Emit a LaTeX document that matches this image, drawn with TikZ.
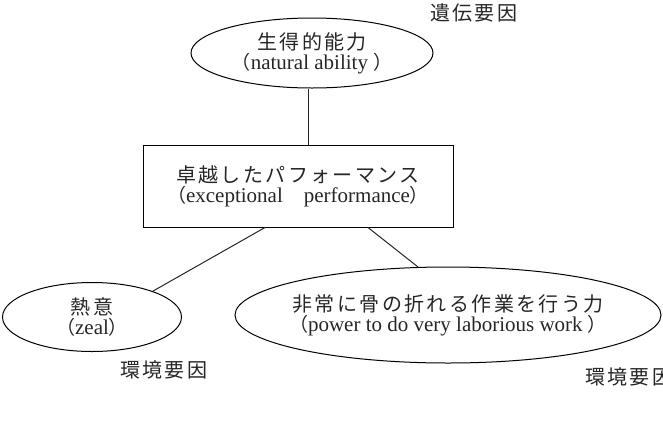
\documentclass[tikz,border=0pt]{standalone}
\usepackage{fontspec}
\setmainfont{Liberation Serif}
\newfontfamily\jpf[LetterSpace=12]{Noto Sans CJK JP}
\newfontfamily\jpp{Noto Sans CJK JP}
\usetikzlibrary{shapes.geometric}
\tikzset{
  lbl/.style={font=\jpf\fontsize{20}{22}\selectfont, text=black!85, inner sep=0pt},
  oval/.style={ellipse, draw, line width=1pt, inner sep=0pt, align=center, text=black!85, font=\fontsize{20}{20}\selectfont},
  boxn/.style={rectangle, draw, line width=1pt, inner sep=0pt, align=center, text=black!85, font=\fontsize{20}{20}\selectfont},
  conn/.style={line width=1pt, draw=black!85},
}
\newcommand{\jl}[1]{{\jpf\fontsize{20}{20}\selectfont #1}}
\newcommand{\el}[1]{{\fontsize{21}{20}\selectfont #1}}
\newcommand{\lp}{{\jpp\fontsize{19}{20}\selectfont （}}
\newcommand{\rp}{{\jpp\fontsize{19}{20}\selectfont ）}}
\begin{document}
\begin{tikzpicture}[x=1pt,y=-1pt]
\useasboundingbox (0,0) rectangle (663,426);
\node[oval, minimum width=242pt, minimum height=70pt] (na) at (312,53)
  {\jl{生得的能力}\\\el{\lp natural ability \rp}};
\node[boxn, minimum width=310pt, minimum height=82pt] (ep) at (298,186)
  {\jl{卓越したパフォーマンス}\\\el{\lp exceptional\quad performance\rp}};
\node[oval, minimum width=179pt, minimum height=69pt] (zeal) at (92,317)
  {\jl{熱意}\\\el{\lp zeal\rp}};
\node[oval, inner xsep=-30pt, minimum width=426pt, minimum height=96pt] (pw) at (448,315)
  {\jl{非常に骨の折れる作業を行う力}\\\el{\lp power to do very laborious work \rp}};
\node[lbl, anchor=west] (g1) at (430,13) {遺伝要因};
\node[lbl, anchor=west] (g2) at (120,370) {環境要因};
\node[lbl, anchor=west] (g3) at (585,377) {環境要因};
\coordinate (c1) at ([xshift=-4pt]na.south);
\draw[conn] (c1) -- (c1 |- ep.north);
\draw[conn] ([xshift=-33pt]ep.south) -- (zeal.23);
\draw[conn] ([xshift=70pt]ep.south) -- (pw.122);
\end{tikzpicture}
\end{document}
